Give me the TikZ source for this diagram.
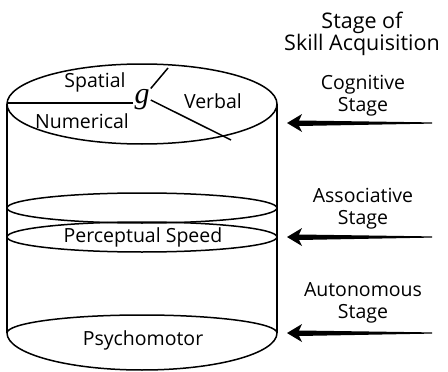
\documentclass[tikz,border=0pt]{standalone}
\usepackage{fontspec}
\setmainfont{Open Sans}
\newfontfamily\gfuente{Liberation Serif}
\usetikzlibrary{calc}
\begin{document}
\begin{tikzpicture}[x=1pt, y=-1pt, line width=1.5pt,
    etiq/.style={font=\fontsize{19.5}{22}\selectfont, align=center, inner sep=0pt},
    flecha/.style={fill=black}]
        \useasboundingbox (0,0) rectangle (448,372);

        % Cilindro: tapa superior, lados y base
        \draw (142,104) ellipse [x radius=135pt, y radius=40pt];
        \draw (7,104) -- (7,333);
        \draw (277,104) -- (277,333);
        \draw (7,333) arc[start angle=180, end angle=360, x radius=135pt, y radius=37pt];
        \draw (7,333) arc[start angle=180, end angle=0, x radius=135pt, y radius=18pt];

        % Capas intermedias
        \node[etiq] (speed) at (143,237) {Perceptual Speed};
        \draw (142,208) ellipse [x radius=135pt, y radius=15pt];
        \draw (142,237) ellipse [x radius=135pt, y radius=15pt];

        % Factor g y sectores de la tapa
        \node[inner sep=0.5pt, font=\gfuente\itshape\fontsize{30}{30}\selectfont] (g) at (142,100) {g};
        \coordinate (izq) at (7,103);
        \coordinate (arr) at (168,68);
        \coordinate (abj) at (231,140);
        \draw (g.west |- izq) -- (izq);
        \draw (g.north east) -- (arr);
        \draw (g.east) -- (abj);

        \node[etiq] (spatial) at (95,82) {Spatial};
        \node[etiq] (numerical) at (82,121) {Numerical};
        \node[etiq] (verbal) at (213,101) {Verbal};
        \node[etiq] (psycho) at (143,340) {Psychomotor};

        % Etapas de adquisicion
        \node[etiq, font=\fontsize{21.5}{21}\selectfont] (titulo) at (362,34) {Stage of\\Skill Acquisition};
        \node[etiq] (cog) at (363,96) {Cognitive\\Stage};
        \node[etiq] (asoc) at (363,209) {Associative\\Stage};
        \node[etiq] (auto) at (363,303) {Autonomous\\Stage};

        % Flechas gruesas hacia el cilindro
        \foreach \nombre/\y in {a/123, b/237, c/333} {
            \coordinate (punta\nombre) at (287,\y);
            \coordinate (cola\nombre) at (432,\y);
            \fill[flecha] (punta\nombre) -- ++(15,-9) -- ++(-3,6.5)
                -- ($(cola\nombre)+(0,-0.6)$) -- ($(cola\nombre)+(0,0.6)$)
                -- ($(punta\nombre)+(12,3)$) -- ++(3,6) -- cycle;
        }
\end{tikzpicture}
\end{document}
